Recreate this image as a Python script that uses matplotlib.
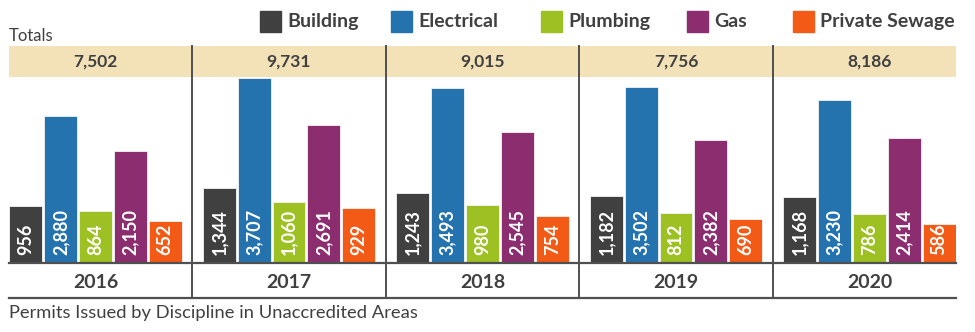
import matplotlib.pyplot as plt
from matplotlib.patches import Rectangle
from matplotlib.transforms import blended_transform_factory
import numpy as np

years = ['2016', '2017', '2018', '2019', '2020']
disciplines = ['Building', 'Electrical', 'Plumbing', 'Gas', 'Private Sewage']
building = [956, 1344, 1243, 1182, 1168]
electrical = [2880, 3707, 3493, 3502, 3230]
plumbing = [864, 1060, 980, 812, 786]
gas = [2150, 2691, 2545, 2382, 2414]
private_sewage = [652, 929, 754, 690, 586]
totals = [7502, 9731, 9015, 7756, 8186]

series = [building, electrical, plumbing, gas, private_sewage]
colors = ['#404040', '#2473AE', '#9DC123', '#8B2D6F', '#F35A15']
text_color = '#404040'
band_color = '#F3E1B8'
line_color = '#505050'

plt.rcParams['font.family'] = ['Lato', 'DejaVu Sans']

W, H = 975, 332
fig = plt.figure(figsize=(W / 100, H / 100), dpi=100)

def box(x0, y0, x1, y1):
    # pixel box (top-left origin) -> figure fraction rect
    return [x0 / W, 1 - y1 / H, (x1 - x0) / W, (y1 - y0) / H]

XLIM = (-0.447, 4.447)
YMIN, YMAX = -250, 3720

# bar area
ax = fig.add_axes(box(9, 77, 956, 263))
x = np.arange(len(years))
step, width = 0.18, 0.17
for i, (vals, c) in enumerate(zip(series, colors)):
    xs = x + (i - 2) * step
    v = np.array(vals)
    ax.bar(xs, v - YMIN, bottom=YMIN, width=width, color=c,
           edgecolor='#f4f4f4', linewidth=0.6, zorder=2)
    for xi, val in zip(xs, vals):
        ax.annotate(f'{val:,}', (xi, YMIN), xytext=(0, 5.5),
                    textcoords='offset points', rotation=90,
                    ha='center', va='bottom', color='white',
                    fontsize=13, fontweight='bold', zorder=3)
ax.set_xlim(XLIM)
ax.set_ylim(YMIN, YMAX)
ax.axis('off')

# totals band
band = fig.add_axes(box(9, 46, 956, 77), zorder=3)
band.set_facecolor(band_color)
band.set_xlim(XLIM)
band.set_ylim(0, 1)
for xi, t in zip(x, totals):
    band.text(xi, 0.5, f'{t:,}', ha='center', va='center',
              fontsize=12.5, fontweight='bold', color=text_color)
band.set_xticks([])
band.set_yticks([])
for s in band.spines.values():
    s.set_visible(False)

# year row
yr = fig.add_axes(box(9, 263, 956, 298))
yr.set_xlim(XLIM)
yr.set_ylim(0, 1)
for xi, y in zip(x, years):
    yr.text(xi, 0.45, y, ha='center', va='center', fontsize=14,
            fontweight='bold', color=text_color)
yr.axhline(1, color=line_color, lw=1.6, clip_on=False)
yr.axhline(0, color=line_color, lw=1.6, clip_on=False)
yr.axis('off')

# dividers between years, from band top to bottom line
trans = blended_transform_factory(ax.transData, fig.transFigure)
for xd in x[:-1] + 0.5:
    fig.add_artist(plt.Line2D([xd, xd], [1 - 46 / H, 1 - 298 / H],
                              transform=trans, color=line_color, lw=1.4,
                              zorder=5))

# legend
leg_x = [260, 391, 541, 687, 793]
for lx, name, c in zip(leg_x, disciplines, colors):
    fig.add_artist(Rectangle((lx / W, 1 - 32 / H), 21 / W, 21 / H,
                             transform=fig.transFigure, color=c))
    fig.text((lx + 27) / W, 1 - 21.5 / H, name, ha='left', va='center',
             fontsize=14, fontweight='bold', color=text_color)

fig.text(9 / W, 1 - 36 / H, 'Totals', ha='left', va='center',
         fontsize=12, color=text_color)
fig.text(9 / W, 1 - 313 / H, 'Permits Issued by Discipline in Unaccredited Areas',
         ha='left', va='center', fontsize=13.2, color=text_color)

fig.savefig('out.png', dpi=100)
